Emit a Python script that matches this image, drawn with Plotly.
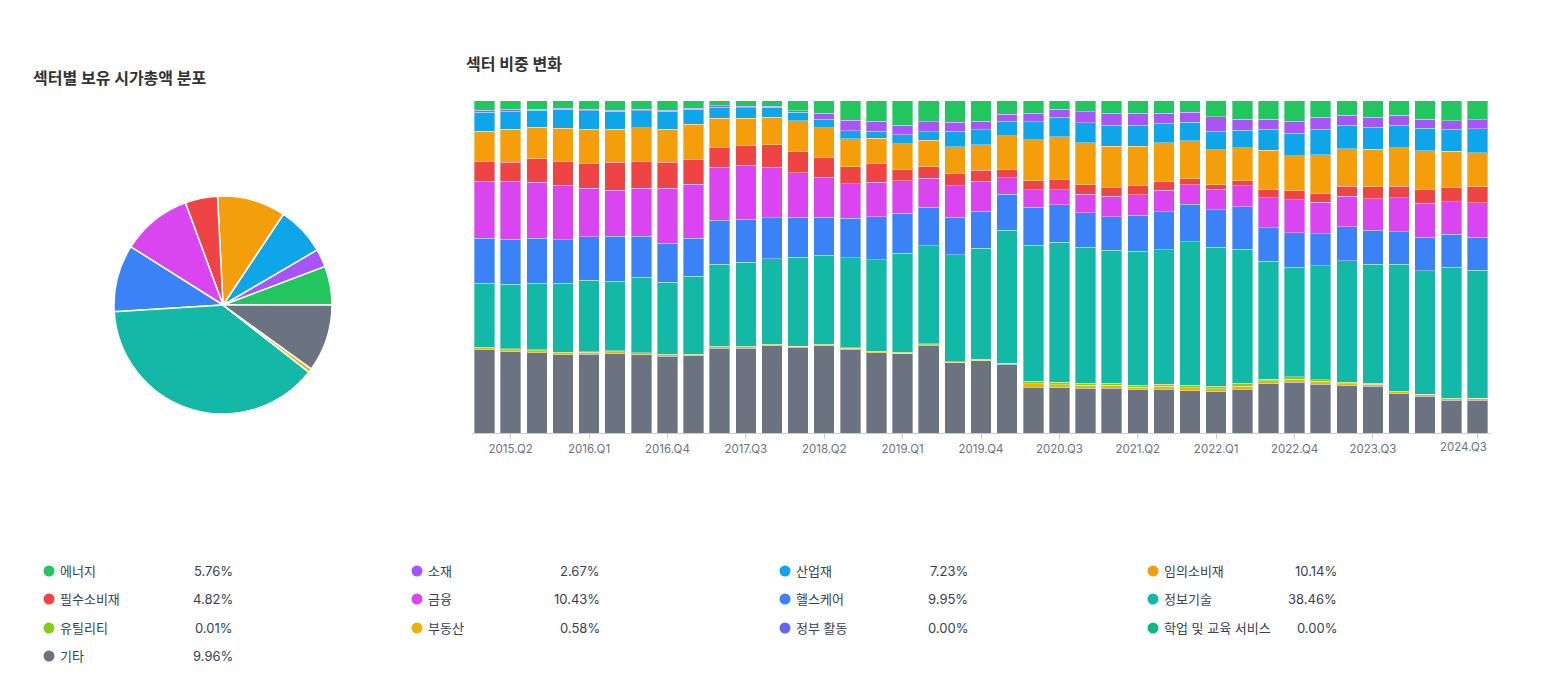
import plotly.graph_objects as go

quarters = [f"{y}.Q{q}" for y in range(2015, 2025) for q in range(1, 5)][:39]
tick_labels = ["2015.Q2", "2016.Q1", "2016.Q4", "2017.Q3", "2018.Q2", "2019.Q1", "2019.Q4",
               "2020.Q3", "2021.Q2", "2022.Q1", "2022.Q4", "2023.Q3", "2024.Q3"]

sectors = ["에너지", "소재", "산업재", "임의소비재", "필수소비재", "금융", "헬스케어", "정보기술",
           "유틸리티", "부동산", "정부 활동", "학업 및 교육 서비스", "기타"]
colors = ["#22c55e", "#a855f7", "#0ea5e9", "#f59e0b", "#ef4444", "#d946ef", "#3b82f6", "#14b8a6",
          "#84cc16", "#eab308", "#6366f1", "#10b981", "#6b7280"]
pie_values = [5.76, 2.67, 7.23, 10.14, 4.82, 10.43, 9.95, 38.46, 0.01, 0.58, 0.00, 0.00, 9.96]

energy = [2.8, 2.6, 2.5, 2.3, 2.5, 2.8, 2.5, 2.8, 2.3, 1.5, 1.6, 1.6, 3.0, 3.8, 5.9, 6.1, 7.3, 6.4, 6.4, 6.1,
          4.0, 3.8, 2.6, 3.3, 3.8, 3.8, 3.8, 3.5, 4.8, 5.5, 5.5, 6.2, 5.0, 4.4, 5.0, 4.4, 5.6, 6.0, 5.76]
materials = [0.6, 0.6, 0.4, 0.3, 0.5, 0.4, 0.5, 0.4, 0.3, 0.5, 0.5, 0.4, 0.5, 1.8, 3.1, 3.0, 3.0, 3.0, 2.7, 2.6,
             2.1, 2.5, 2.4, 3.3, 3.5, 3.6, 2.9, 3.0, 4.3, 3.4, 3.1, 3.6, 3.6, 3.0, 3.0, 3.0, 2.7, 2.6, 2.67]
industrials = [5.7, 5.4, 5.0, 5.6, 5.6, 5.3, 5.1, 5.4, 4.5, 3.3, 3.1, 2.9, 2.6, 2.6, 2.5, 2.2, 2.7, 2.5, 4.7, 4.6,
               4.4, 5.5, 5.9, 6.1, 6.4, 6.3, 6.0, 5.6, 5.7, 5.2, 6.3, 6.7, 7.7, 7.0, 6.6, 6.8, 6.8, 6.6, 7.23]
discretionary = [9.1, 9.9, 9.5, 10.1, 10.2, 9.9, 10.1, 9.8, 10.5, 8.7, 8.2, 8.3, 9.1, 8.8, 8.4, 7.7, 7.8, 7.9, 8.1, 7.6,
                 10.1, 12.2, 12.9, 12.6, 12.3, 11.8, 11.7, 11.4, 10.5, 9.9, 11.7, 10.6, 11.6, 11.3, 11.3, 11.5, 11.6, 10.9, 10.14]
staples = [5.9, 5.7, 7.0, 7.1, 7.5, 8.5, 8.1, 7.8, 7.4, 6.0, 6.0, 6.8, 6.4, 6.0, 5.0, 5.5, 3.3, 3.5, 3.6, 3.3,
           2.5, 2.8, 3.0, 2.8, 2.7, 2.8, 2.5, 1.8, 1.3, 1.6, 2.5, 2.7, 2.6, 3.0, 3.6, 3.4, 4.1, 4.3, 4.82]
financials = [17.1, 17.4, 16.9, 16.3, 14.5, 13.7, 14.3, 16.6, 16.3, 15.9, 16.2, 15.2, 13.5, 12.0, 10.5, 10.3, 9.7, 8.8, 9.5, 9.0,
              5.0, 5.2, 4.5, 5.5, 6.1, 6.1, 6.4, 5.8, 6.2, 6.2, 9.1, 9.8, 9.4, 9.2, 9.4, 10.3, 10.2, 9.7, 10.43]
healthcare = [13.5, 13.4, 13.5, 13.1, 13.1, 13.6, 12.4, 11.7, 11.3, 13.1, 12.9, 12.3, 11.9, 11.5, 11.8, 13.0, 12.0, 11.5, 11.3, 11.1,
              10.8, 11.4, 11.2, 10.4, 10.1, 10.8, 11.4, 11.2, 11.2, 12.8, 10.0, 10.4, 9.6, 10.2, 10.2, 9.7, 10.1, 9.9, 9.95]
it = [19.3, 19.5, 20.0, 20.7, 21.4, 20.9, 22.6, 21.6, 23.5, 24.7, 25.4, 25.7, 26.8, 26.7, 27.1, 27.5, 29.7, 29.5, 32.1, 33.4,
      39.9, 40.8, 42.0, 40.9, 40.0, 40.2, 40.4, 43.1, 41.7, 40.3, 35.4, 32.9, 34.3, 36.4, 35.7, 38.2, 37.0, 39.4, 38.46]
utilities = [0.2, 0.2, 0.2, 0.1, 0.2, 0.2, 0.1, 0.1, 0.1, 0.1, 0.1, 0.2, 0.1, 0.2, 0.1, 0.1, 0.3, 0.2, 0.1, 0.2,
             0.2, 0.8, 0.8, 0.6, 0.6, 0.6, 0.7, 0.8, 0.8, 0.8, 0.5, 0.7, 0.4, 0.5, 0.4, 0.1, 0.1, 0.1, 0.01]
real_estate = [0.6, 0.6, 0.7, 0.6, 0.6, 0.6, 0.6, 0.5, 0.4, 0.5, 0.5, 0.3, 0.3, 0.3, 0.3, 0.3, 0.2, 0.2, 0.2, 0.2,
               0.2, 1.0, 0.9, 0.9, 0.9, 0.8, 0.9, 0.9, 0.9, 0.9, 0.9, 1.0, 0.9, 0.6, 0.6, 0.6, 0.5, 0.5, 0.58]
government = [0.0] * 39
education = [0.0] * 39
other = [25.0, 24.5, 24.1, 23.6, 23.7, 23.9, 23.5, 23.1, 23.2, 25.5, 25.5, 26.3, 25.8, 26.3, 25.3, 24.2, 23.9, 26.5, 21.2, 21.8,
         20.7, 13.9, 13.7, 13.5, 13.5, 13.1, 13.2, 12.8, 12.5, 13.3, 14.9, 15.3, 14.8, 14.3, 14.1, 11.9, 11.2, 9.9, 9.96]

series = [energy, materials, industrials, discretionary, staples, financials, healthcare, it,
          utilities, real_estate, government, education, other]

W, H = 1548, 676
FONT = 'Inter, "Noto Sans CJK KR", sans-serif'
TICK_FONT = dict(size=11.5, color="#6b7280", family=FONT)

fig = go.Figure()

# Pie: first slice starts at 3 o'clock, going counterclockwise
cx, cy, r = 223, 305, 109
total = sum(pie_values)
fig.add_trace(go.Pie(
    labels=sectors, values=pie_values, sort=False, direction="counterclockwise",
    rotation=90 - pie_values[0] / total * 360,
    marker=dict(colors=colors, line=dict(color="white", width=1.5)),
    textinfo="none", hoverinfo="label+percent",
    domain=dict(x=[(cx - r) / W, (cx + r) / W], y=[(H - cy - r) / H, (H - cy + r) / H]),
))

# Stacked bars: bottom (기타) to top (에너지)
for name, col, vals in reversed(list(zip(sectors, colors, series))):
    if not any(vals):
        continue
    fig.add_trace(go.Bar(
        x=quarters, y=vals, name=name,
        marker=dict(color=col, line=dict(color="rgba(255,255,255,0.35)", width=1)),
        xaxis="x", yaxis="y",
    ))

x0_px, x1_px = 471.5, 1490.5
fig.update_layout(
    width=W, height=H, margin=dict(l=0, r=0, t=0, b=0, autoexpand=False),
    paper_bgcolor="white", plot_bgcolor="white",
    barmode="stack", barnorm="percent", bargap=0.215, showlegend=False,
    font=dict(family=FONT, color="#374151"),
    xaxis=dict(domain=[x0_px / W, x1_px / W], type="category", tickmode="array", tickvals=tick_labels,
               ticktext=tick_labels[:-1] + [""], showline=True, linecolor="#c8ccd2", linewidth=1,
               ticks="outside", ticklen=5, tickcolor="#c8ccd2", showgrid=False, zeroline=False,
               tickfont=TICK_FONT, automargin=False),
    yaxis=dict(domain=[(H - 433.3) / H, (H - 100.7) / H], range=[0, 100], visible=False, showgrid=False),
)

annotations = [
    dict(text="<b>섹터별 보유 시가총액 분포</b>", x=31 / W, y=1 - 78 / H, xref="paper", yref="paper",
         xanchor="left", yanchor="middle", showarrow=False, font=dict(size=16, color="#333333", family=FONT)),
    dict(text="<b>섹터 비중 변화</b>", x=464 / W, y=1 - 64 / H, xref="paper", yref="paper",
         xanchor="left", yanchor="middle", showarrow=False, font=dict(size=16, color="#333333", family=FONT)),
    # last tick label is kept inside the axis end
    dict(text=tick_labels[-1], x=1489 / W, y=1 - 447 / H, xref="paper", yref="paper",
         xanchor="right", yanchor="middle", showarrow=False, font=TICK_FONT),
]
shapes = []
col_dot_x = [49, 417, 785, 1153]
col_pct_right = [233, 600, 968, 1337]
row_y = [571, 599, 628, 656]
dr = 5.5
for i, (name, col, v) in enumerate(zip(sectors, colors, pie_values)):
    c, rrow = i % 4, i // 4
    dx, yy = col_dot_x[c], row_y[rrow]
    shapes.append(dict(type="circle", xref="paper", yref="paper",
                       x0=(dx - dr) / W, x1=(dx + dr) / W, y0=1 - (yy + dr) / H, y1=1 - (yy - dr) / H,
                       fillcolor=col, line=dict(width=0)))
    annotations.append(dict(text=name, x=(dx + 9) / W, y=1 - yy / H, xref="paper", yref="paper",
                            xanchor="left", yanchor="middle", showarrow=False,
                            font=dict(size=13, color="#374151", family=FONT)))
    annotations.append(dict(text=f"{v:.2f}%", x=(col_pct_right[c] + 2) / W, y=1 - yy / H, xref="paper", yref="paper",
                            xanchor="right", yanchor="middle", showarrow=False,
                            font=dict(size=13, color="#374151", family=FONT)))

fig.update_layout(annotations=annotations, shapes=shapes)
fig.write_html(
    "out.html",
    post_script="document.documentElement.style.overflow='hidden';"
                "document.body.style.margin='0';document.body.style.overflow='hidden';",
)
